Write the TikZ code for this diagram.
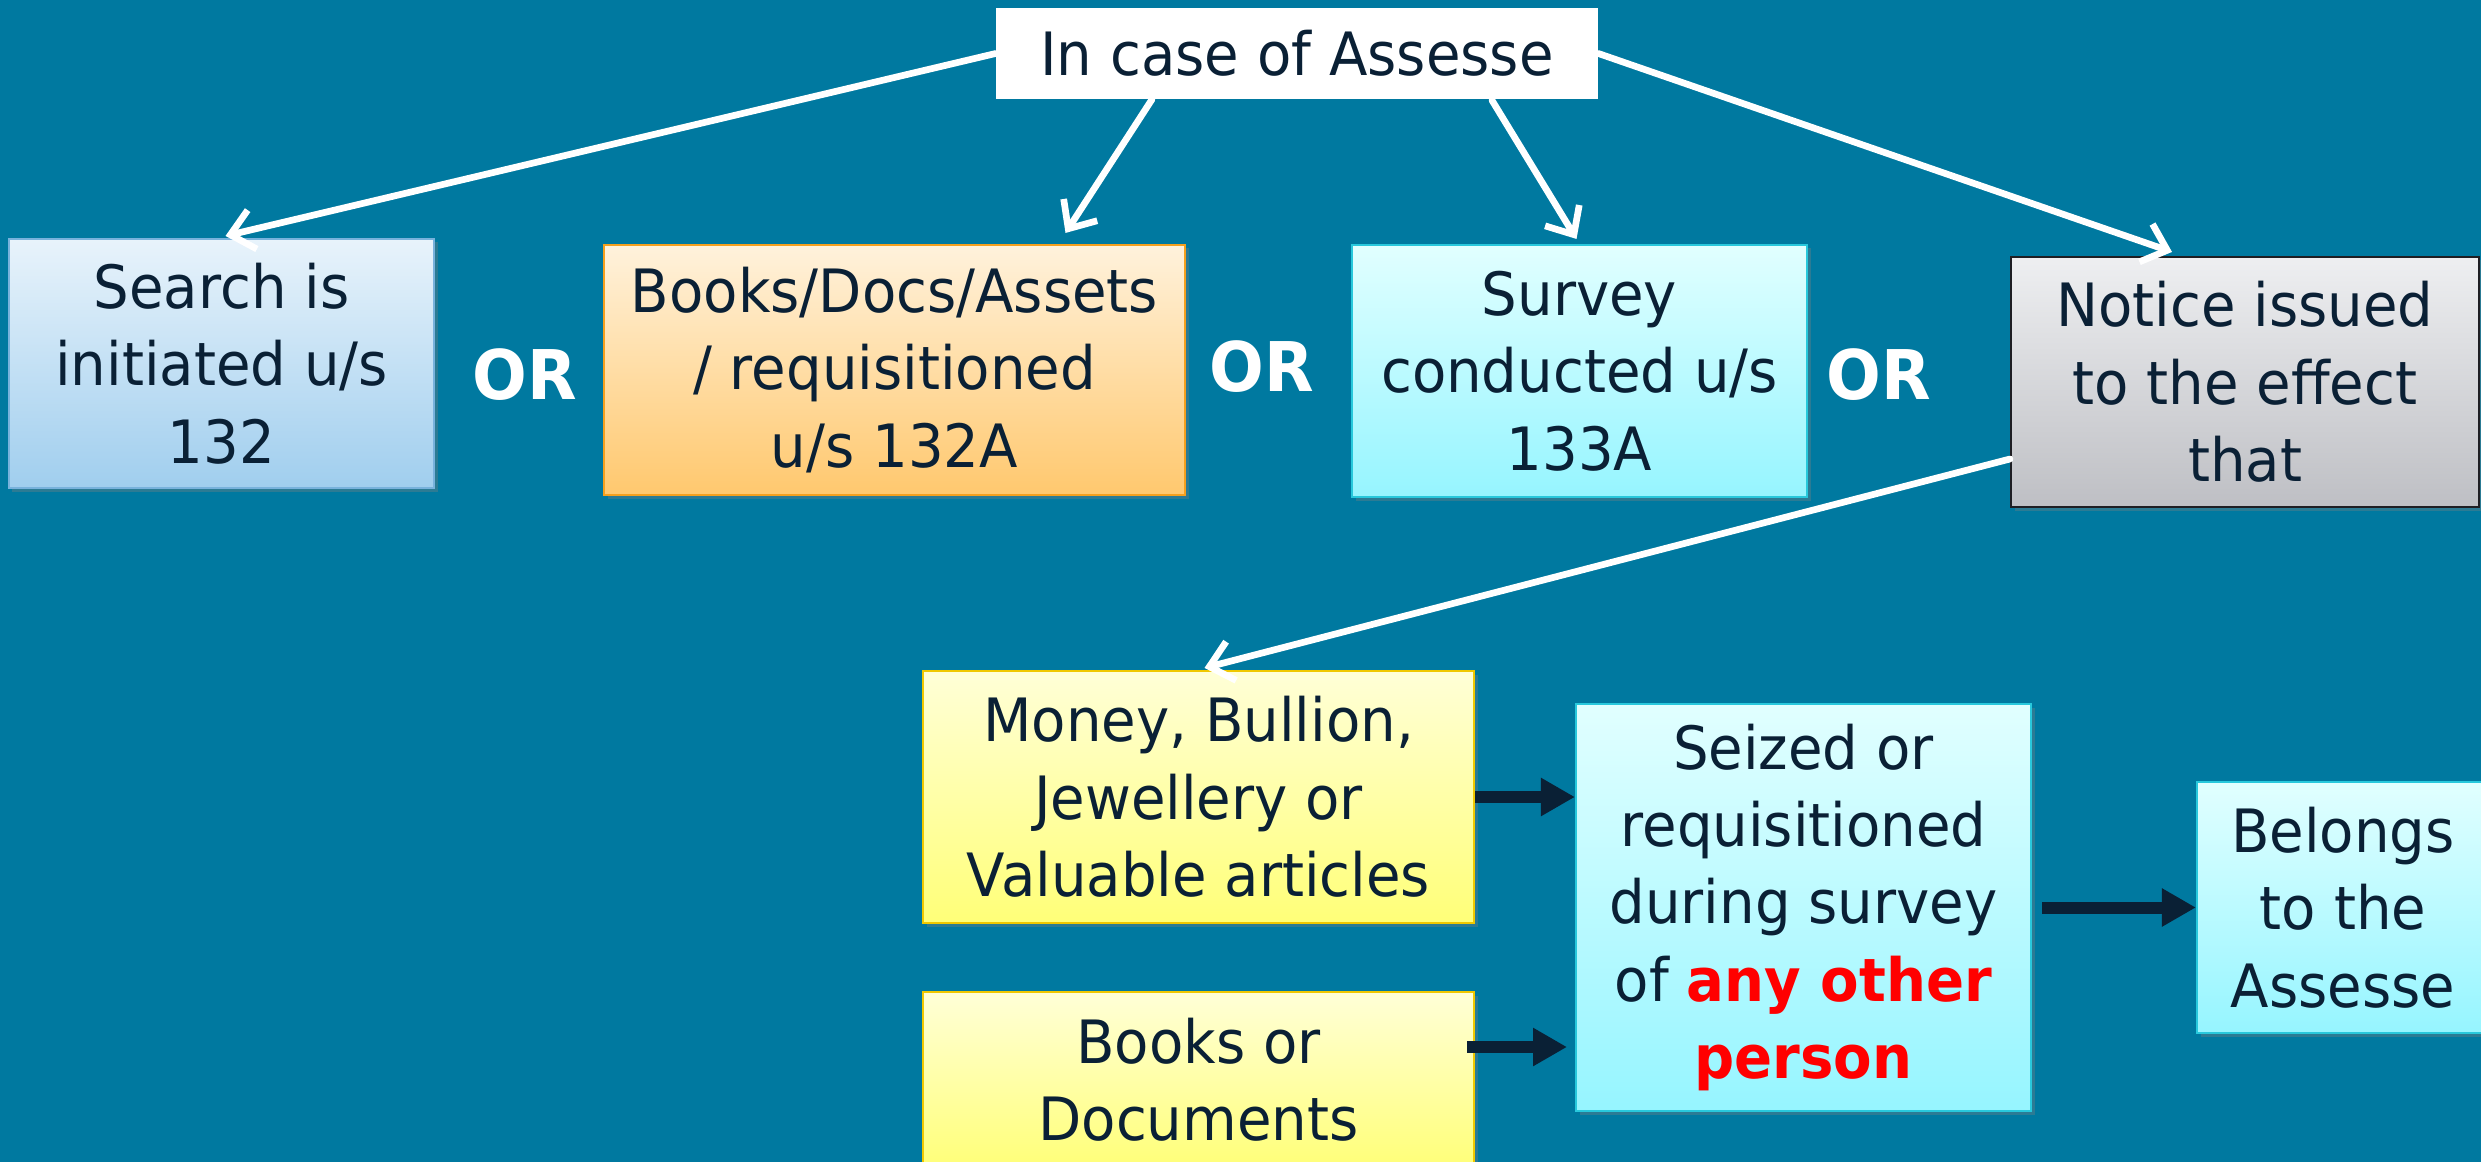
\documentclass[tikz,border=0pt]{standalone}
\usepackage{fontspec}
\setmainfont{DejaVu Sans}[FakeStretch=0.94]
\usetikzlibrary{arrows.meta,calc,shadows}

\definecolor{bgteal}{RGB}{0,121,160}
\definecolor{navy}{RGB}{10,32,53}
\definecolor{searchtop}{RGB}{232,243,251}
\definecolor{searchbot}{RGB}{160,206,238}
\definecolor{searchline}{RGB}{120,178,220}
\definecolor{orangetop}{RGB}{255,242,220}
\definecolor{orangebot}{RGB}{255,200,110}
\definecolor{orangeline}{RGB}{245,160,30}
\definecolor{cyantop}{RGB}{225,255,255}
\definecolor{cyanbot}{RGB}{150,245,255}
\definecolor{cyanline}{RGB}{40,200,220}
\definecolor{graytop}{RGB}{238,239,241}
\definecolor{graybot}{RGB}{190,191,196}
\definecolor{grayline}{RGB}{30,30,35}
\definecolor{yellowtop}{RGB}{255,255,215}
\definecolor{yellowbot}{RGB}{255,255,120}
\definecolor{yellowline}{RGB}{240,200,0}

\begin{document}
\begin{tikzpicture}[
    x=0.02cm, y=-0.02cm,
    flowbox/.style={rectangle, draw, line width=1.2pt, inner sep=0pt, align=center,
      text=navy, font=\fontsize{34}{44}\selectfont,
      drop shadow={shadow xshift=0.07cm, shadow yshift=-0.07cm, opacity=0.35}},
    searchbox/.style={flowbox, draw=searchline, top color=searchtop, bottom color=searchbot},
    orangebox/.style={flowbox, draw=orangeline, top color=orangetop, bottom color=orangebot},
    cyanbox/.style={flowbox, draw=cyanline, top color=cyantop, bottom color=cyanbot},
    graybox/.style={flowbox, draw=grayline, top color=graytop, bottom color=graybot},
    yellowbox/.style={flowbox, draw=yellowline, top color=yellowtop, bottom color=yellowbot},
    orlabel/.style={text=white, font=\fontsize{39}{44}\selectfont\bfseries},
    whitearrow/.style={draw=white, line width=3.8pt, line cap=round,
      -{Straight Barb[length=0.45cm, width=0.8cm]}},
    darkarrow/.style={draw=navy, line width=0.24cm,
      -{Triangle[length=0.68cm, width=0.72cm]}}
  ]
  % Background
  \useasboundingbox (0,0) rectangle (2481,1162);
  \fill[bgteal] (0,0) rectangle (2481,1162);

  % Top node
  \node[fill=white, inner sep=0pt, minimum width=602*0.02cm, minimum height=91*0.02cm,
    text=navy, font=\fontsize{34}{44}\selectfont] (assesse) at (1297,53.5) {In case of Assesse};

  % First row of cases
  \node[searchbox, minimum width=425*0.02cm, minimum height=249*0.02cm] (search) at (221.5,363.5)
    {Search is\\initiated u/s\\132};
  \node[orangebox, minimum width=581*0.02cm, minimum height=250*0.02cm] (books) at (894.5,370)
    {Books/Docs/Assets\\/ requisitioned\\u/s 132A};
  \node[cyanbox, minimum width=455*0.02cm, minimum height=252*0.02cm] (survey) at (1579.5,371)
    {Survey\\conducted u/s\\133A};
  \node[graybox, minimum width=468*0.02cm, minimum height=250*0.02cm] (notice) at (2245,382)
    {Notice issued\\to the effect\\that};

  % OR labels
  \node[orlabel] (or1) at (525,375) {OR};
  \node[orlabel] (or2) at (1262,367) {OR};
  \node[orlabel] (or3) at (1879,375) {OR};

  % Second row
  \node[yellowbox, minimum width=551*0.02cm, minimum height=252*0.02cm] (money) at (1198.5,797)
    {Money, Bullion,\\Jewellery or\\Valuable articles};
  \node[yellowbox, minimum width=551*0.02cm, minimum height=176*0.02cm] (bookdoc) at (1198.5,1080)
    {Books or\\Documents};
  \node[cyanbox, minimum width=455*0.02cm, minimum height=407*0.02cm] (seized) at (1803.5,907.5)
    {Seized or\\requisitioned\\during survey\\of \textcolor{red}{\bfseries any other}\\\textcolor{red}{\bfseries person}};
  \node[cyanbox, minimum width=292*0.02cm, minimum height=251*0.02cm] (belongs) at (2343,907.5)
    {Belongs\\to the\\Assesse};

  % White arrows from the top node
  \draw[whitearrow] (assesse.west) -- ($(search.north)+(4,-2)$);
  \draw[whitearrow] ($(assesse.south)+(-145,0)$) -- ($(books.north)+(171,-11)$);
  \draw[whitearrow] ($(assesse.south)+(195,1)$) -- ($(survey.north)+(-3,-5)$);
  \draw[whitearrow] (assesse.east) -- ($(notice.north)+(-73,-4)$);
  \draw[whitearrow] ($(notice.west)+(0,77)$) -- ($(money.north)+(6,-2)$);

  % Dark arrows
  \draw[darkarrow] (money.east) -- (money.east -| seized.west);
  \draw[darkarrow] ($(bookdoc.east)+(-8,-33)$) -- ($(bookdoc.east)+(92,-33)$);
  \draw[darkarrow, shorten <=0.2cm] (seized.east) -- (belongs.west);
\end{tikzpicture}
\end{document}
